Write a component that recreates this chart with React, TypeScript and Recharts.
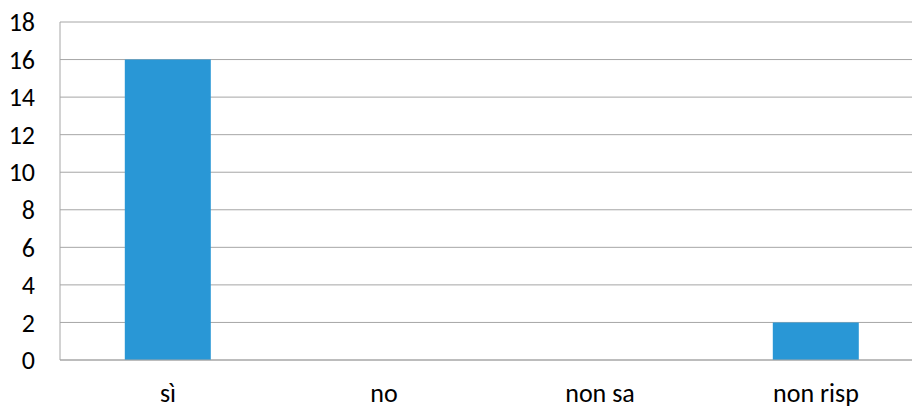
import { BarChart, Bar, XAxis, YAxis, CartesianGrid } from "recharts";

const categories = ["sì", "no", "non sa", "non risp"];
const counts = [16, 0, 0, 2];
const yTicks = [0, 2, 4, 6, 8, 10, 12, 14, 16, 18];

const data = categories.map((name, i) => ({ name, value: counts[i] }));

const font = "Carlito, 'Open Sans', 'Liberation Sans', sans-serif";

export default function App() {
  return (
    <div
      style={{
        position: "absolute",
        left: 0,
        top: 0,
        width: 912,
        height: 409,
        overflow: "hidden",
        background: "#fff",
      }}
    >
      <BarChart
        width={930}
        height={409}
        data={data}
        margin={{ top: 22, right: 6, bottom: 0, left: 0 }}
        barCategoryGap="30%"
      >
        <CartesianGrid vertical={false} stroke="#a6a6a6" strokeWidth={1} />
        <XAxis
          dataKey="name"
          height={49}
          axisLine={{ stroke: "#a6a6a6" }}
          tickLine={false}
          tickMargin={18}
          tick={{ fill: "#000", fontSize: 26, fontFamily: font }}
        />
        <YAxis
          width={60}
          domain={[0, 18]}
          ticks={yTicks}
          interval={0}
          axisLine={{ stroke: "#a6a6a6" }}
          tickLine={false}
          tickMargin={19}
          tick={{ fill: "#000", fontSize: 26, fontFamily: font }}
        />
        <Bar dataKey="value" fill="#2997d6" isAnimationActive={false} />
      </BarChart>
    </div>
  );
}
